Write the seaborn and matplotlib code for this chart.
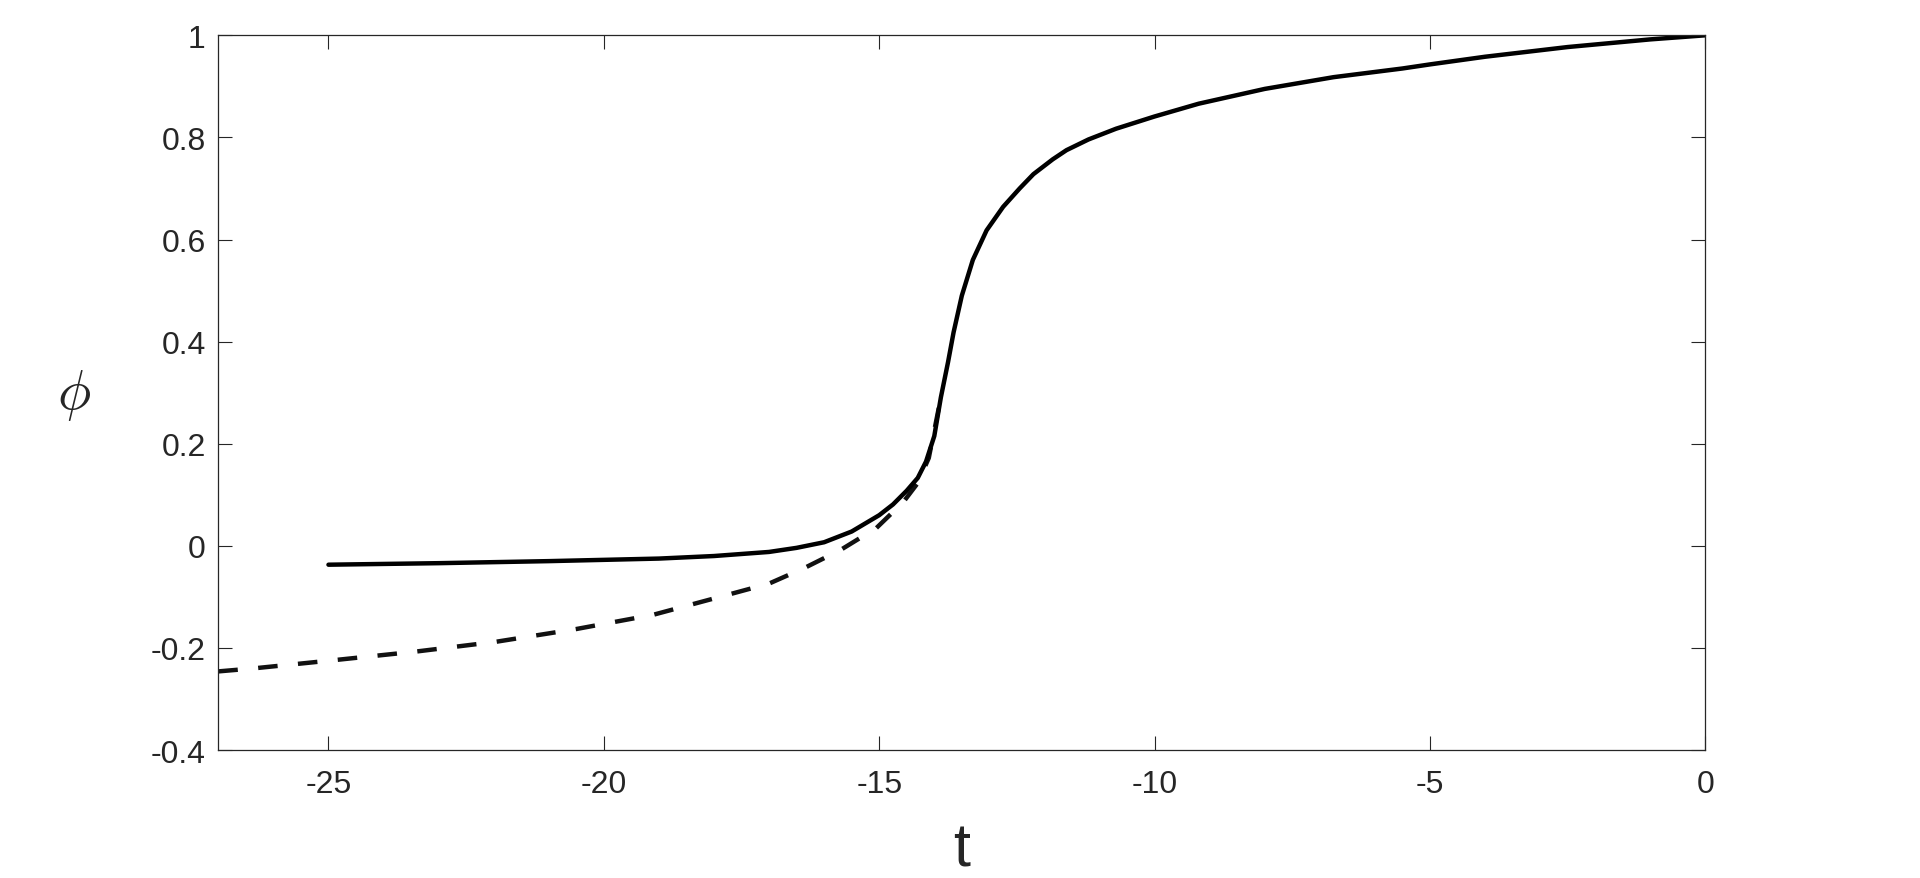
import numpy as np
import pandas as pd
import matplotlib
matplotlib.use("Agg")
import matplotlib.pyplot as plt
import seaborn as sns

# values
t_solid = [-25, -23, -21, -19, -18, -17, -16.5, -16, -15.5, -15, -14.75, -14.5,
           -14.3, -14.15, -14.0, -13.88, -13.75, -13.65, -13.5, -13.3, -13.05,
           -12.75, -12.45, -12.2, -11.85, -11.6, -11.2, -10.7, -10, -9.2, -8,
           -6.75, -5.5, -5, -4, -2.5, -1, 0]
phi_solid = [-0.037, -0.034, -0.030, -0.025, -0.020, -0.012, -0.004, 0.007,
             0.028, 0.060, 0.081, 0.108, 0.133, 0.165, 0.215, 0.291, 0.360,
             0.418, 0.490, 0.560, 0.618, 0.664, 0.700, 0.728, 0.757, 0.775,
             0.796, 0.817, 0.841, 0.866, 0.895, 0.918, 0.935, 0.943, 0.958,
             0.977, 0.992, 1.0]

t_dashed = [-27, -26.35, -24.9, -23.4, -21.96, -20.5, -19.1, -17.65, -17.0,
            -16.35, -15.7, -15.05, -14.56, -14.3, -14.1, -13.9]
phi_dashed = [-0.246, -0.240, -0.224, -0.207, -0.188, -0.163, -0.135, -0.093,
              -0.074, -0.043, -0.008, 0.035, 0.086, 0.123, 0.172, 0.280]

x_ticks = [-25, -20, -15, -10, -5, 0]
y_ticks = [-0.4, -0.2, 0, 0.2, 0.4, 0.6, 0.8, 1]
y_ticklabels = ["-0.4", "-0.2", "0", "0.2", "0.4", "0.6", "0.8", "1"]

sns.set_theme(style="ticks")
plt.rcParams["font.family"] = ["Liberation Sans", "DejaVu Sans"]
plt.rcParams["mathtext.fontset"] = "cm"

fig = plt.figure(figsize=(19.2, 8.79), dpi=100)
ax = fig.add_axes([0.1137, 0.1456, 0.8882 - 0.1137, 0.9587 - 0.1456])

solid = pd.DataFrame({"t": t_solid, "phi": phi_solid})
dashed = pd.DataFrame({"t": t_dashed, "phi": phi_dashed})

sns.lineplot(data=dashed, x="t", y="phi", ax=ax, color="#111111", linewidth=3.2)
ax.lines[-1].set_dashes((4.4, 4.6))
sns.lineplot(data=solid, x="t", y="phi", ax=ax, color="black", linewidth=3.2)

ax.set_xlim(-27, 0)
ax.set_ylim(-0.4, 1)
ax.set_xticks(x_ticks)
ax.set_xticklabels([str(v) for v in x_ticks])
ax.set_yticks(y_ticks)
ax.set_yticklabels(y_ticklabels)

ax.tick_params(direction="in", length=10, width=0.8, colors="#262626",
               labelsize=23, top=True, right=True)
ax.tick_params(axis="x", pad=14)
ax.tick_params(axis="y", pad=9)
for s in ax.spines.values():
    s.set_visible(True)
    s.set_color("#262626")
    s.set_linewidth(0.9)

ax.set_xlabel("t", fontsize=44, color="#262626")
ax.xaxis.set_label_coords(0.5, -0.100)
ax.set_ylabel(r"$\phi$", fontsize=40, rotation=0, color="#262626", va="center")
ax.yaxis.set_label_coords(-0.097, 0.497)

fig.savefig("out.png", dpi=100)
